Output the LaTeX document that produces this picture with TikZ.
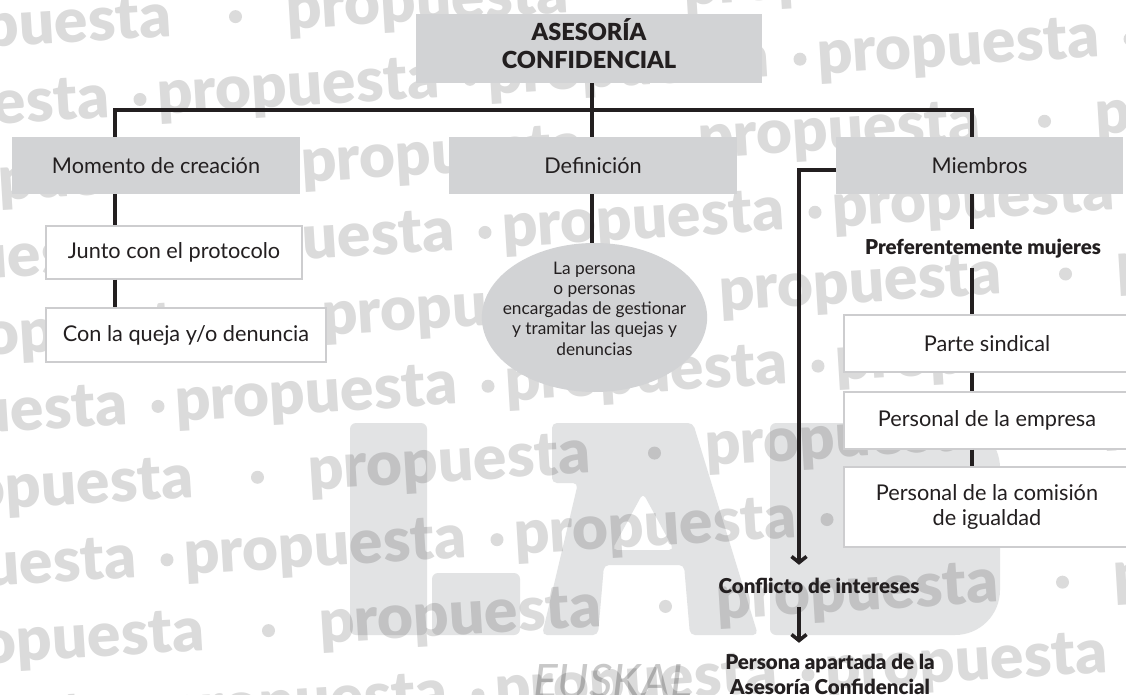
\documentclass[tikz,border=0pt]{standalone}
\usepackage{fontspec}
\setmainfont{Lato}
\newfontfamily\blackfont{Lato Black}
\usetikzlibrary{arrows.meta,shapes.geometric}
\definecolor{ink}{HTML}{231F20}
\definecolor{boxgray}{HTML}{D2D3D5}
\definecolor{boxline}{HTML}{CDCDCF}
\definecolor{logogray}{HTML}{E2E3E4}
\definecolor{euskgray}{HTML}{C8C8C8}
\tikzset{
  graybox/.style={fill=boxgray, draw=none, inner sep=0pt, text=ink,
    font=\fontsize{21.7}{26}\selectfont},
  whitebox/.style={fill=white, draw=boxline, line width=1.3pt, inner sep=0pt, text=ink,
    font=\fontsize{21.7}{25}\selectfont, align=center},
  conn/.style={draw=ink, line width=4.3pt},
  arr/.style={draw=ink, line width=3.6pt, -{Straight Barb[length=6pt,width=15pt,line width=3.6pt]}},
  boldlabel/.style={inner sep=0pt, text=ink, align=center,
    font=\blackfont\fontsize{20.5}{25}\selectfont},
  wmword/.style={anchor=base west, rotate=3.5, inner sep=0pt, text=black, text opacity=0.14,
    font=\blackfont\fontsize{62}{62}\selectfont},
  wmdot/.style={fill=black, fill opacity=0.14},
  logo/.style={fill=logogray}
}
\begin{document}
\begin{tikzpicture}[x=1pt,y=-1pt]
\useasboundingbox (0,0) rectangle (1126,695);
\clip (0,0) rectangle (1126,695);
\fill[white] (0,0) rectangle (1126,695);

% ---- LAB logo (background) ----
\fill[logo, rounded corners=6pt] (350,423) rectangle (427,635);
\fill[logo, rounded corners=6pt] (432,573) rectangle (520,635);
\fill[logo, even odd rule, rounded corners=5pt]
  (552,423) -- (693,423) -- (758,635) -- (690,635) -- (684,565) -- (604,565)
  -- (598,635) -- (542,635) -- (578,483) -- (552,483) -- cycle
  (643,493) -- (674,550) -- (612,550) -- cycle;
\fill[logo] [rounded corners=6pt] (770,635) -- (770,423) [rounded corners=45pt] -- (1000,423)
  -- (1000,635) [rounded corners=6pt] -- cycle;
\node[anchor=base west, inner sep=0pt, text=euskgray,
  font=\itshape\fontsize{46}{46}\selectfont] (euskal) at (533,697) {EUSKAL};

% ---- watermark ----
\foreach \k/\p/\per in {0/287/397, 2/302/397, 4/323/397, 6/309/397, 8/320/397,
                        1/158/330, 3/173/330, 5/176/330, 7/185/330, 9/166/330}{
  \foreach \n in {-2,...,3}{
    \pgfmathsetmacro\xx{\p+\n*\per}
    \pgfmathsetmacro\yy{47+77*\k-0.061*\xx}
    \pgfmathsetmacro\xd{\xx+294+(\per-294)/2}
    \pgfmathsetmacro\yd{47+77*\k-0.061*\xd-16}
    \node[wmword] (wm-\k-\n) at (\xx,\yy) {propuesta};
    \fill[wmdot] (\xd,\yd) circle (6.5);
  }
}

% ---- diagram nodes ----
\node[graybox, minimum width=346pt, minimum height=69pt, align=center,
  font=\blackfont\fontsize{23.5}{28}\selectfont] (top) at (589,48.5)
  {ASESORÍA\\CONFIDENCIAL\\[-18pt]\mbox{}};
\node[graybox, minimum width=288pt, minimum height=57pt] (mom) at (156,165.5) {Momento de creación};
\node[graybox, minimum width=288pt, minimum height=57pt] (def) at (593,165.5) {Definición};
\node[graybox, minimum width=287pt, minimum height=57pt] (mie) at (979.5,165.5) {Miembros};

\node[whitebox, minimum width=256pt, minimum height=53pt] (jun) at (174,252.5) {Junto con el protocolo};
\node[whitebox, minimum width=280pt, minimum height=54pt] (que) at (186,335) {Con la queja y/o denuncia};

\node[ellipse, fill=boxgray, inner xsep=-12pt, inner ysep=-12pt, minimum width=215pt, minimum height=149pt,
  text=ink, align=center, font=\fontsize{17.3}{20.2}\selectfont] (ell) at (594.5,317.5)
  {La persona\\o personas\\encargadas de gestionar\\y tramitar las quejas y\\denuncias\\[-2pt]\mbox{}};

\node[boldlabel, minimum height=38pt] (pref) at (983,248.5) {Preferentemente mujeres};
\node[whitebox, minimum width=286pt, minimum height=57pt] (par) at (987,343.5) {Parte sindical};
\node[whitebox, minimum width=286pt, minimum height=57pt] (emp) at (987,420.5) {Personal de la empresa};
\node[whitebox, minimum width=286pt, minimum height=80pt] (com) at (987,507) {Personal de la comisión\\de igualdad};

\node[boldlabel, minimum height=42pt] (conf) at (819,586) {Conflicto de intereses};
\node[boldlabel, minimum height=63pt] (apar) at (830,674.5) {Persona apartada de la\\Asesoría Confidencial};

% ---- connectors ----
\coordinate (sL) at (115,110);
\coordinate (sR) at (972,110);
\coordinate (mx) at (592,0);
\coordinate (mj) at (799,170);

\draw[conn] (sL |- mom.north) -- (sL) -- (sR) -- (sR |- mie.north);
\draw[conn] (top.south -| mx) -- (def.north -| mx);
\draw[conn] (def.south -| mx) -- (ell.north -| mx);
\draw[conn] (mom.south -| sL) -- (jun.north -| sL);
\draw[conn] (jun.south -| sL) -- (que.north -| sL);
\draw[conn] (mie.south -| sR) -- (pref.north -| sR);
\draw[conn] (pref.south -| sR) -- (par.north -| sR);
\draw[conn] (par.south -| sR) -- (emp.north -| sR);
\draw[conn] (emp.south -| sR) -- (com.north -| sR);

\draw[arr] (mie.west |- mj) -- (mj) -- (conf.north -| mj);
\draw[arr] (conf.south -| mj) -- (apar.north -| mj);
\end{tikzpicture}
\end{document}
